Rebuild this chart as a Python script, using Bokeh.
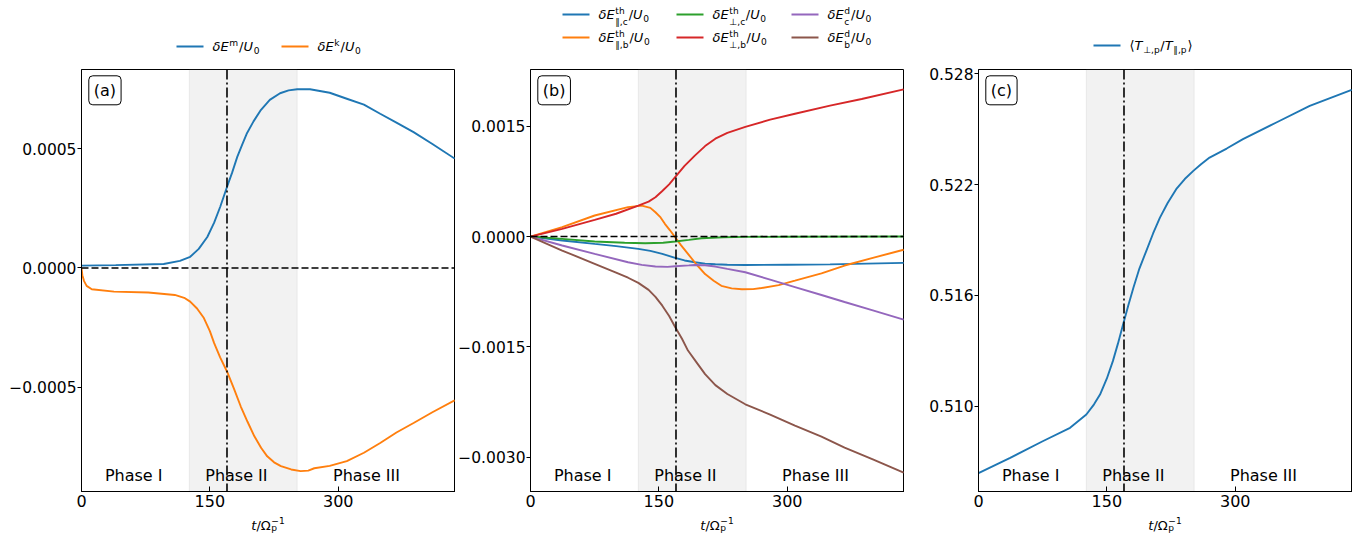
from bokeh.plotting import figure
from bokeh.layouts import column, row
from bokeh.models import Range1d, FixedTicker, BoxAnnotation, Span, Label, ColumnDataSource
from bokeh.core.properties import value
from bokeh.embed import file_html
from bokeh.resources import INLINE

FONT = "DejaVu Sans"

# ---------------- data ----------------
X_MAX = 437
SHADE = (126, 252)
T_MARK = 170
XTICKS = [0, 150, 300]
XLABELS = ["0", "150", "300"]

# panel (a)  (values in units of 1e-4)
t_em = [0, 40, 96, 115, 127, 137, 147, 155, 162, 170, 176, 182, 188, 193, 201, 209, 220, 232, 242, 252,
        267, 290, 310, 330, 349, 368, 388, 410, 436]
em = [0.10, 0.12, 0.17, 0.30, 0.47, 0.80, 1.30, 1.90, 2.56, 3.40, 4.00, 4.66, 5.20, 5.63, 6.15, 6.60, 7.05,
      7.33, 7.45, 7.50, 7.50, 7.35, 7.10, 6.85, 6.47, 6.10, 5.70, 5.20, 4.59]
t_ek = [0, 1, 3, 6, 12, 38, 78, 109, 120, 127, 135, 143, 150, 155, 162, 170, 178, 186, 194, 202, 210, 217,
        225, 233, 245, 256, 265, 272, 290, 310, 330, 349, 368, 388, 410, 436]
ek = [0, -0.30, -0.55, -0.75, -0.89, -0.99, -1.03, -1.13, -1.25, -1.41, -1.70, -2.10, -2.65, -3.15, -3.75,
      -4.34, -5.05, -5.80, -6.45, -7.06, -7.55, -7.90, -8.15, -8.31, -8.45, -8.52, -8.50, -8.40, -8.30,
      -8.10, -7.75, -7.34, -6.90, -6.50, -6.05, -5.55]
YTICKS_A = [-0.0005, 0.0, 0.0005]
YLABELS_A = ["\u22120.0005", "0.0000", "0.0005"]

# panel (b)  (values in units of 1e-4)
t_par_c = [0, 37, 75, 100, 126, 140, 154, 169, 180, 192, 204, 216, 230, 251, 300, 350, 436]
par_c = [0, -0.54, -1.00, -1.30, -1.67, -1.95, -2.36, -2.90, -3.25, -3.50, -3.68, -3.77, -3.83, -3.86,
         -3.83, -3.78, -3.58]
t_par_b = [0, 37, 75, 114, 130, 140, 146, 152, 157, 163, 169, 176, 184, 194, 204, 214, 223, 235, 247, 260,
           270, 290, 309, 340, 367, 400, 436]
par_b = [0, 1.27, 2.86, 4.00, 4.20, 3.90, 3.30, 2.60, 1.73, 0.85, -0.10, -1.20, -2.36, -3.80, -5.10, -6.00,
         -6.70, -7.05, -7.17, -7.15, -7.00, -6.60, -6.00, -5.00, -3.94, -2.90, -1.80]
t_perp_c = [0, 37, 75, 110, 134, 155, 169, 185, 200, 225, 251, 300, 436]
perp_c = [0, -0.32, -0.68, -0.85, -0.91, -0.85, -0.68, -0.45, -0.23, -0.10, -0.05, -0.02, 0.0]
t_perp_b = [0, 37, 75, 100, 126, 138, 146, 154, 162, 169, 180, 192, 204, 216, 230, 251, 280, 309, 350,
            387, 436]
perp_b = [0, 1.05, 2.27, 3.10, 4.20, 4.75, 5.35, 6.20, 7.10, 8.07, 9.60, 11.0, 12.3, 13.3, 14.1, 14.9,
          15.9, 16.7, 17.8, 18.7, 20.0]
t_d_c = [0, 37, 75, 114, 130, 146, 160, 169, 185, 192, 204, 216, 230, 251, 280, 309, 340, 367, 400, 436]
d_c = [0, -1.22, -2.36, -3.50, -3.85, -4.08, -4.12, -4.04, -3.92, -3.86, -3.90, -4.08, -4.40, -4.85, -5.86,
       -6.87, -7.95, -8.90, -10.04, -11.3]
t_d_b = [0, 37, 75, 100, 114, 126, 138, 146, 154, 162, 169, 177, 184, 194, 204, 216, 230, 251, 280, 309,
         340, 367, 400, 436]
d_b = [0, -1.90, -3.70, -4.90, -5.60, -6.30, -7.25, -8.20, -9.40, -10.8, -12.3, -13.9, -15.5, -17.1, -18.7,
       -20.2, -21.4, -22.8, -24.2, -25.7, -27.2, -28.7, -30.3, -32.1]
YTICKS_B = [-0.003, -0.0015, 0.0, 0.0015]
YLABELS_B = ["\u22120.0030", "\u22120.0015", "0.0000", "0.0015"]

# panel (c)
t_ratio = [0, 37, 75, 107, 126, 135, 142, 150, 157, 163, 169, 175, 181, 188, 196, 204, 212, 221, 231, 241,
           251, 260, 270, 290, 309, 348, 387, 436]
ratio = [0.50638, 0.50720, 0.50810, 0.50883, 0.50955, 0.51010, 0.51063, 0.51150, 0.51244, 0.51340, 0.51443,
         0.51545, 0.51641, 0.51745, 0.51840, 0.51935, 0.52021, 0.52100, 0.52175, 0.52230, 0.52274, 0.52310,
         0.52346, 0.52395, 0.52446, 0.52536, 0.52626, 0.52713]
YTICKS_C = [0.510, 0.516, 0.522, 0.528]
YLABELS_C = ["0.510", "0.516", "0.522", "0.528"]

PHASES = ["Phase I", "Phase II", "Phase III"]
PHASE_X = [61, 181, 333]

C = {"blue": "#1f77b4", "orange": "#ff7f0e", "green": "#2ca02c", "red": "#d62728",
     "purple": "#9467bd", "brown": "#8c564b"}

# ---------------- layout helpers ----------------
FRAME_W, FRAME_H = 374, 422
TOP, BOTTOM = 13, 23
HDR_H = 56
FTR_H = 20
LW = 1.9
MID = 0.346  # distance (em) from alphabetic baseline up to middle of the em box (DejaVu Sans)

CW = {" ": 0.318, ".": 0.318, ",": 0.318, "/": 0.337, "(": 0.39, ")": 0.39, "E": 0.632, "U": 0.732,
      "T": 0.611, "m": 0.974, "k": 0.579, "t": 0.392, "h": 0.634, "c": 0.55, "b": 0.635, "d": 0.635,
      "p": 0.635, "\u03b4": 0.612, "\u03a9": 0.765, "\u2212": 0.838, "\u2225": 0.5, "\u22a5": 0.838,
      "\u27e8": 0.39, "\u27e9": 0.39}
for ch in "0123456789":
    CW[ch] = 0.636


def text_w(s, size):
    return sum(CW.get(c, 0.6) for c in s) * size


def layout_expr(tokens, size, sup_dy=-0.36, sub_dy=0.2, sub_dy_both=0.42):
    """returns pieces (dx, baseline_dy, text, fontsize, italic) and total width"""
    out, x = [], 0.0
    for tok in tokens:
        if tok[0] in ("it", "rm"):
            out.append((x, 0.0, tok[1], size, tok[0] == "it"))
            x += text_w(tok[1], size)
        else:
            _, sup, sub = tok
            s2 = size * 0.7
            w = 0.0
            both = bool(sup) and bool(sub)
            if sup:
                out.append((x + 0.05 * size, sup_dy * size, sup, s2, False))
                w = max(w, text_w(sup, s2))
            if sub:
                out.append((x + 0.05 * size, (sub_dy_both if both else sub_dy) * size, sub, s2, False))
                w = max(w, text_w(sub, s2))
            x += w + 0.12 * size
    return out, x


def make_panel(yr, yticks, ylabels, left):
    p = figure(width=left + FRAME_W, height=TOP + FRAME_H + BOTTOM, title=None,
               x_range=Range1d(0, X_MAX), y_range=Range1d(*yr),
               output_backend="svg", toolbar_location=None,
               min_border_left=left, min_border_right=0, min_border_top=TOP, min_border_bottom=BOTTOM)
    p.xgrid.visible = False
    p.ygrid.visible = False
    p.background_fill_color = "white"
    p.border_fill_color = "white"
    p.outline_line_color = "black"
    p.outline_line_alpha = 1.0
    p.outline_line_width = 1
    for ax in (p.xaxis[0], p.yaxis[0]):
        ax.axis_line_color = "black"
        ax.major_tick_line_color = "black"
        ax.minor_tick_line_color = None
        ax.major_label_text_font = FONT
        ax.major_label_text_color = "black"
    p.xaxis.major_label_text_font_size = "16px"
    p.yaxis.major_label_text_font_size = "15.5px"
    p.xaxis.ticker = FixedTicker(ticks=XTICKS)
    p.xaxis.major_label_overrides = dict(zip(XTICKS, XLABELS))
    p.xaxis.major_tick_in = 5
    p.xaxis.major_tick_out = 0
    p.xaxis.major_label_standoff = 3
    p.yaxis.ticker = FixedTicker(ticks=yticks)
    p.yaxis.major_label_overrides = dict(zip(yticks, ylabels))
    p.yaxis.major_tick_in = 0
    p.yaxis.major_tick_out = 4
    p.yaxis.major_label_standoff = 1
    p.add_layout(BoxAnnotation(left=SHADE[0], right=SHADE[1], fill_color="gray", fill_alpha=0.1,
                               line_color="gray", line_alpha=0.12, line_width=1, level="underlay"))
    return p


def dx(px):
    return px * X_MAX / FRAME_W


def ypx(yr, px_from_top):
    return yr[1] - px_from_top * (yr[1] - yr[0]) / FRAME_H


def decorate(p, yr, tag, zero_line):
    for name, xp in zip(PHASES, PHASE_X):
        p.add_layout(Label(x=xp, y=ypx(yr, 406), text=name, text_align="center",
                           text_baseline="middle", text_font=FONT, text_font_size="16px",
                           text_color="black"))
    p.add_layout(Label(x=dx(7.3), y=ypx(yr, 6.3), text=tag, text_align="left", text_baseline="top",
                       text_font=FONT, text_font_size="16px", text_color="black",
                       background_fill_color="white", border_line_color="black", border_line_width=1,
                       padding=5, border_radius=4))
    if zero_line:
        p.add_layout(Span(location=0, dimension="width", line_color="black", line_width=1.6,
                          line_dash="7 3"))
    p.add_layout(Span(location=T_MARK, dimension="height", line_color="black", line_width=1.6,
                      line_dash="10 3 2 3"))


def bare_fig(w, h):
    f = figure(width=w, height=h, x_range=Range1d(0, w), y_range=Range1d(h, 0), title=None,
               output_backend="svg", toolbar_location=None, x_axis_location=None, y_axis_location=None,
               min_border=0)
    f.grid.visible = False
    f.outline_line_color = None
    f.background_fill_color = "white"
    f.border_fill_color = "white"
    return f


def draw_pieces(f, items):
    src = dict(x=[], y=[], text=[], fs=[], style=[])
    for (x0, base, pieces) in items:
        for (px, py, txt, fs, it) in pieces:
            src["x"].append(x0 + px)
            src["y"].append(base + py - MID * fs)   # convert baseline to em-box middle
            src["text"].append(txt)
            src["fs"].append(f"{fs:.1f}px")
            src["style"].append("italic" if it else "normal")
    f.text(x="x", y="y", text="text", source=ColumnDataSource(src), text_font=value(FONT),
           text_font_size="fs", text_font_style="style", text_baseline="middle", text_align="left",
           text_color="black")


# ---------------- panels ----------------
YR_A = (-0.0009375, 0.0008326)
YR_B = (-0.003466, 0.002271)
YR_C = (0.50538, 0.52823)
LEFTS = [81, 75, 74]

pa = make_panel(YR_A, YTICKS_A, YLABELS_A, LEFTS[0])
pa.line(t_em, [v * 1e-4 for v in em], line_color=C["blue"], line_width=LW)
pa.line(t_ek, [v * 1e-4 for v in ek], line_color=C["orange"], line_width=LW)
decorate(pa, YR_A, "(a)", True)

pb = make_panel(YR_B, YTICKS_B, YLABELS_B, LEFTS[1])
pb.line(t_par_c, [v * 1e-4 for v in par_c], line_color=C["blue"], line_width=LW)
pb.line(t_par_b, [v * 1e-4 for v in par_b], line_color=C["orange"], line_width=LW)
pb.line(t_perp_c, [v * 1e-4 for v in perp_c], line_color=C["green"], line_width=LW)
pb.line(t_perp_b, [v * 1e-4 for v in perp_b], line_color=C["red"], line_width=LW)
pb.line(t_d_c, [v * 1e-4 for v in d_c], line_color=C["purple"], line_width=LW)
pb.line(t_d_b, [v * 1e-4 for v in d_b], line_color=C["brown"], line_width=LW)
decorate(pb, YR_B, "(b)", True)

pc = make_panel(YR_C, YTICKS_C, YLABELS_C, LEFTS[2])
pc.line(t_ratio, ratio, line_color=C["blue"], line_width=LW)
decorate(pc, YR_C, "(c)", False)

TOTAL_W = pa.width + pb.width + pc.width
frame_lefts = [LEFTS[0], pa.width + LEFTS[1], pa.width + pb.width + LEFTS[2]]

# ---------------- legend header ----------------
hdr = bare_fig(TOTAL_W, HDR_H)
U0 = [("rm", "/"), ("it", "U"), ("ss", "", "0")]
legend_items = [
    # (line x0, line y, colour, tokens)  page pixels
    (176, 46, C["blue"], [("it", "\u03b4E"), ("ss", "m", "")] + U0),
    (281, 46, C["orange"], [("it", "\u03b4E"), ("ss", "k", "")] + U0),
    (562, 14, C["blue"], [("it", "\u03b4E"), ("ss", "th", "\u2225,c")] + U0),
    (562, 37, C["orange"], [("it", "\u03b4E"), ("ss", "th", "\u2225,b")] + U0),
    (676, 14, C["green"], [("it", "\u03b4E"), ("ss", "th", "\u22a5,c")] + U0),
    (676, 37, C["red"], [("it", "\u03b4E"), ("ss", "th", "\u22a5,b")] + U0),
    (791, 14, C["purple"], [("it", "\u03b4E"), ("ss", "d", "c")] + U0),
    (791, 37, C["brown"], [("it", "\u03b4E"), ("ss", "d", "b")] + U0),
    (1093, 45, C["blue"], [("rm", "\u27e8"), ("it", "T"), ("ss", "", "\u22a5,p"), ("rm", "/"), ("it", "T"),
                           ("ss", "", "\u2225,p"), ("rm", "\u27e9")]),
]
items = []
for (lx, ly, col, toks) in legend_items:
    hdr.line([lx, lx + 27], [ly, ly], line_color=col, line_width=LW)
    pieces, w = layout_expr(toks, 13)
    items.append((lx + 36, ly + 4.7, pieces))
draw_pieces(hdr, items)

# ---------------- x-axis labels footer ----------------
ftr = bare_fig(TOTAL_W, FTR_H)
fitems = []
for fl in frame_lefts:
    pieces, w = layout_expr([("it", "t"), ("rm", "/"), ("rm", "\u03a9"), ("ss", "\u22121", "p")], 13,
                            sup_dy=-0.45, sub_dy_both=0.15)
    fitems.append((fl + FRAME_W / 2 - w / 2, 15.0, pieces))
draw_pieces(ftr, fitems)

layout = column(hdr, row(pa, pb, pc, spacing=0), ftr, spacing=0)
open("out.html", "w").write(file_html(layout, INLINE))
